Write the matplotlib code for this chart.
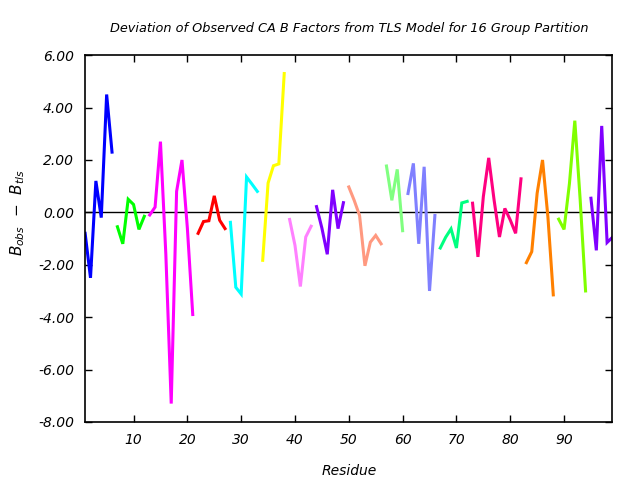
# Deviation of observed CA B factors from TLS model, 16 group partition
import matplotlib
matplotlib.use('Agg')
import matplotlib.pyplot as plt
from matplotlib.ticker import FormatStrFormatter

# first residue of each TLS group and the per-residue deviations
group_start = [1, 7, 13, 22, 28, 34, 39, 44, 50, 57, 61, 67, 73, 83, 89, 95]
group_dev = [
    [-0.8, -2.5, 1.2, -0.2, 4.5, 2.3],
    [-0.55, -1.2, 0.5, 0.3, -0.65, -0.15],
    [-0.1, 0.2, 2.7, -1.6, -7.3, 0.8, 2.0, -0.6, -3.9],
    [-0.8, -0.35, -0.32, 0.63, -0.3, -0.62],
    [-0.38, -2.86, -3.12, 1.35, 1.08, 0.8],
    [-1.83, 1.12, 1.78, 1.85, 5.3],
    [-0.27, -1.26, -2.83, -0.94, -0.53],
    [0.22, -0.6, -1.6, 0.86, -0.62, 0.37],
    [0.97, 0.46, -0.12, -2.04, -1.14, -0.88, -1.2],
    [1.77, 0.46, 1.64, -0.7],
    [0.72, 1.87, -1.2, 1.74, -3.0, -0.12],
    [-1.36, -0.95, -0.63, -1.36, 0.36, 0.42],
    [0.35, -1.7, 0.6, 2.08, 0.47, -0.94, 0.15, -0.29, -0.8, 1.28],
    [-1.92, -1.5, 0.73, 2.0, -0.17, -3.15],
    [-0.26, -0.65, 1.1, 3.5, 0.47, -3.0],
    [0.54, -1.45, 3.3, -1.15, -0.95],
]
group_colors = ['#0000ff', '#00ff00', '#ff00ff', '#ff0000', '#00ffff', '#ffff00',
                '#ff80ff', '#8000ff', '#ff9980', '#80ff80', '#8080ff', '#00ff80',
                '#ff0080', '#ff8000', '#80ff00', '#8000ff']

x_ticks = [10, 20, 30, 40, 50, 60, 70, 80, 90]
y_ticks = [-8, -6, -4, -2, 0, 2, 4, 6]

plt.rcParams['mathtext.fontset'] = 'dejavusans'

fig = plt.figure(figsize=(6.4, 4.8), dpi=100)
ax = fig.add_axes([0.133, 0.121, 0.824, 0.764])

ax.axhline(0, color='black', lw=1.0, zorder=1)

for start, dev, col in zip(group_start, group_dev, group_colors):
    res = list(range(start, start + len(dev)))
    ax.plot(res, dev, color=col, lw=2.2, solid_joinstyle='miter', zorder=2)

ax.set_xlim(1, 99)
ax.set_ylim(-8, 6)
ax.set_xticks(x_ticks)
ax.set_yticks(y_ticks)
ax.yaxis.set_major_formatter(FormatStrFormatter('%.2f'))
ax.tick_params(direction='in', length=5, width=1, top=True, right=True,
               labelsize=10, pad=8)
for lab in ax.get_xticklabels() + ax.get_yticklabels():
    lab.set_fontstyle('italic')
for sp in ax.spines.values():
    sp.set_linewidth(1.2)

ax.set_title('Deviation of Observed CA B Factors from TLS Model for 16 Group Partition',
             fontsize=9.3, style='italic', pad=17)
ax.set_xlabel('Residue', fontsize=10, style='italic', labelpad=12)
ax.set_ylabel(r'$B_{obs}$  $-$  $B_{tls}$', fontsize=11)
ax.yaxis.set_label_coords(-0.11, 0.57)

plt.savefig('out.png', dpi=100)
